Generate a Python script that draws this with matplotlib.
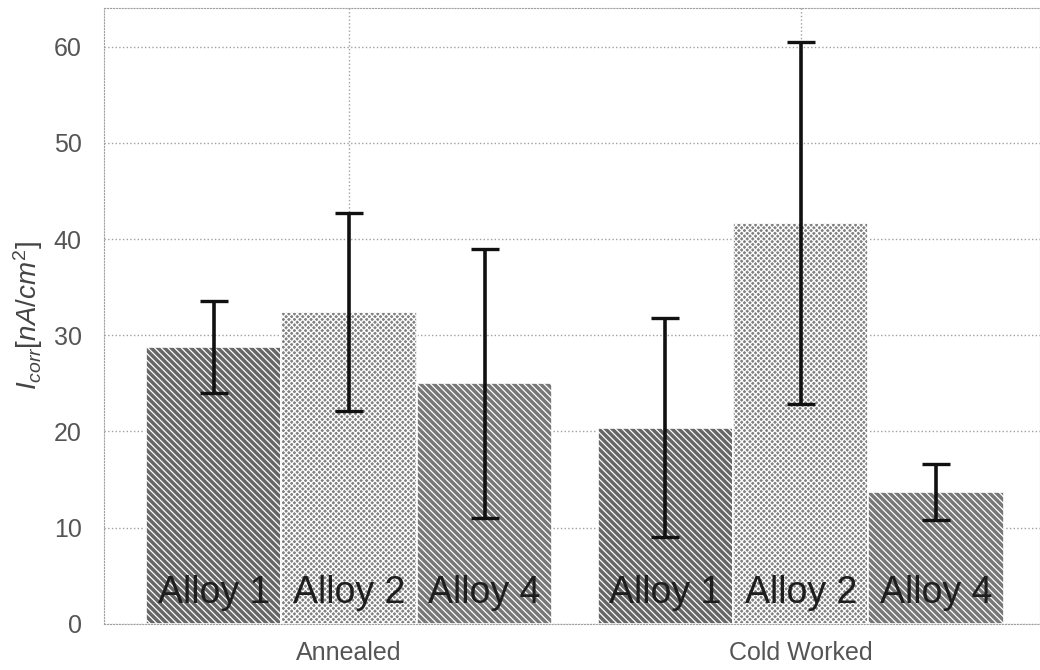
import numpy as np
import matplotlib
matplotlib.use("Agg")
import matplotlib.pyplot as plt

# corrosion current per alloy, annealed vs cold worked
conditions = ["Annealed", "Cold Worked"]
alloys = ["Alloy 1", "Alloy 2", "Alloy 4"]
mean_annealed = [28.8, 32.4, 25.0]
mean_cold = [20.4, 41.7, 13.7]
err_annealed = [4.8, 10.3, 14.0]
err_cold = [11.4, 18.8, 2.9]

faces = ["#666666", "#828282", "#777777"]
hatches = ["\\\\\\\\\\", "xxxxxx", "\\\\\\\\\\"]

plt.rcParams["font.family"] = ["Liberation Sans", "DejaVu Sans"]
plt.rcParams["mathtext.fontset"] = "custom"
plt.rcParams["mathtext.it"] = "Liberation Sans:italic"
plt.rcParams["mathtext.rm"] = "Liberation Sans"
plt.rcParams["hatch.color"] = "#1a1a1a"
plt.rcParams["hatch.linewidth"] = 0.9

fig = plt.figure(figsize=(10.4, 6.7), dpi=100)
ax = fig.add_axes([0.1, 0.0687, 0.9, 0.9193])

x = np.arange(len(conditions))
width = 0.3
means = np.array([mean_annealed, mean_cold])
errs = np.array([err_annealed, err_cold])

for i, name in enumerate(alloys):
    pos = x + (i - 1) * width
    ax.bar(pos, means[:, i], width, color=faces[i], hatch=hatches[i],
           edgecolor="white", linewidth=1.2, zorder=2)
    ax.errorbar(pos, means[:, i], yerr=errs[:, i], fmt="none", ecolor="#111111",
                elinewidth=2.6, capsize=10, capthick=2.4, zorder=3)
    for p in pos:
        ax.text(p, 2.2, name, ha="center", va="baseline", fontsize=27,
                color="#1e1e1e", zorder=4)

ax.set_xlim(-0.543, 1.53)
ax.set_ylim(0, 64)
ax.set_xticks(x)
ax.set_xticklabels(conditions, fontsize=18, color="#555555")
ax.set_yticks(range(0, 61, 10))
ax.tick_params(axis="y", labelsize=18, colors="#555555", length=0, pad=16)
ax.tick_params(axis="x", length=0, pad=12)
ax.set_ylabel(r"$I_{corr}[nA/cm^2]$", fontsize=20, color="#444444", labelpad=6)

ax.grid(True, linestyle=":", color="#a0a0a0", linewidth=1, zorder=0)
ax.set_axisbelow(True)
for s in ax.spines.values():
    s.set_linestyle(":")
    s.set_color("#a0a0a0")

fig.savefig("out.png", dpi=100)
